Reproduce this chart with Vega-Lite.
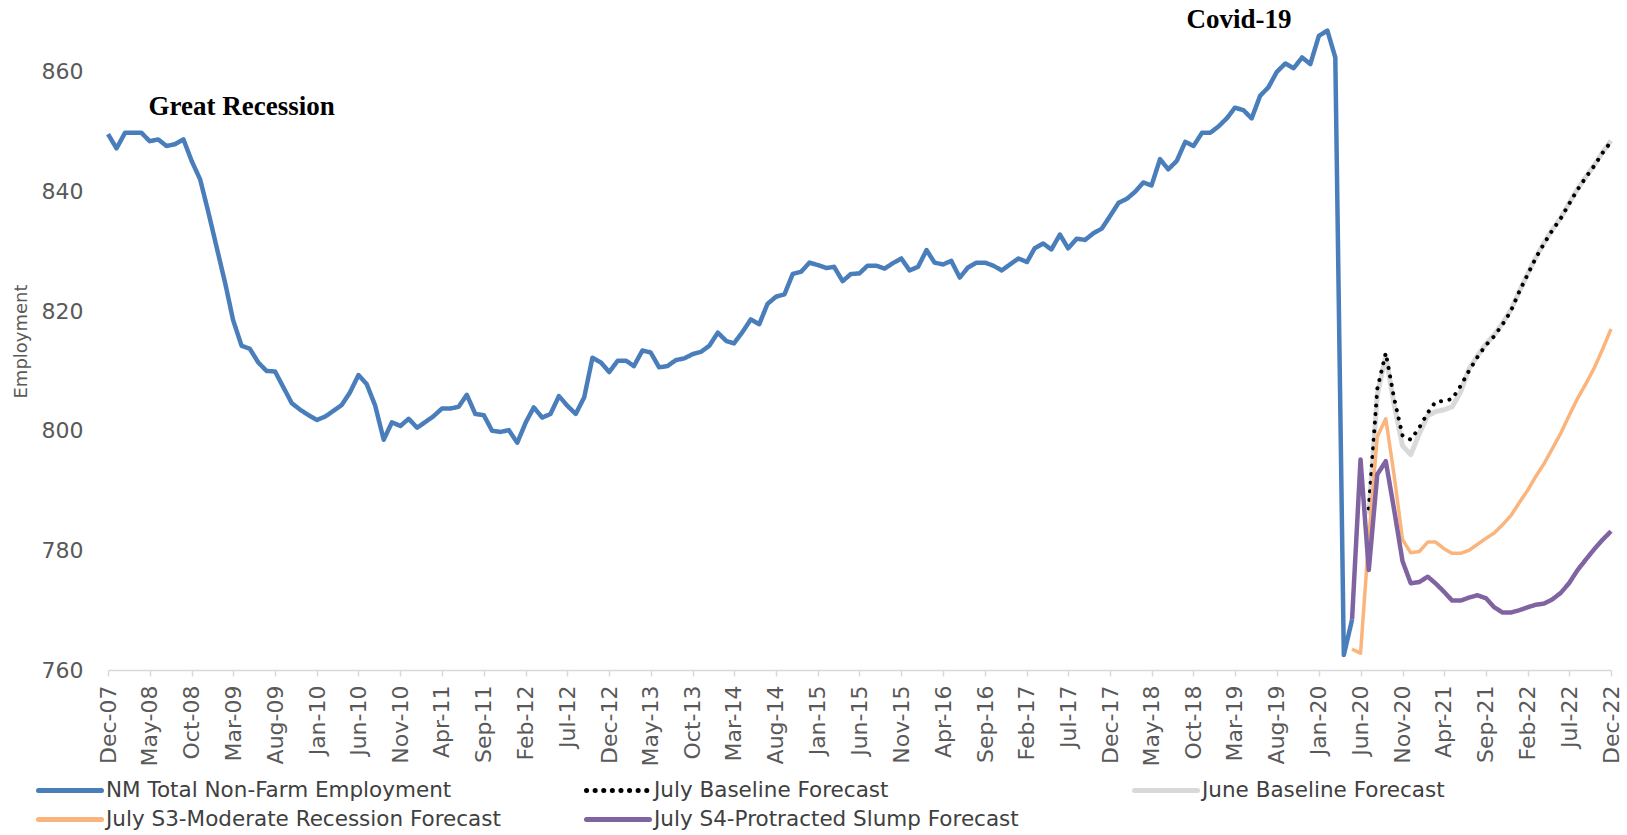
{
  "$schema": "https://vega.github.io/schema/vega-lite/v6.json",
  "width": 1503,
  "height": 658,
  "autosize": {"type": "none"},
  "padding": {"left": 108, "top": 12, "right": 16, "bottom": 165},
  "background": "white",
  "config": {
    "view": {"stroke": null},
    "axis": {"grid": false, "labelFont": "DejaVu Sans", "labelColor": "#595959", "titleFont": "DejaVu Sans", "titleColor": "#595959"}
  },
  "datasets": {
    "lines": [
      {"s":"NM Total Non-Farm Employment","d":"2007-12-01","v":849.6},
      {"s":"NM Total Non-Farm Employment","d":"2008-01-01","v":847.2},
      {"s":"NM Total Non-Farm Employment","d":"2008-02-01","v":849.8},
      {"s":"NM Total Non-Farm Employment","d":"2008-03-01","v":849.8},
      {"s":"NM Total Non-Farm Employment","d":"2008-04-01","v":849.8},
      {"s":"NM Total Non-Farm Employment","d":"2008-05-01","v":848.4},
      {"s":"NM Total Non-Farm Employment","d":"2008-06-01","v":848.7},
      {"s":"NM Total Non-Farm Employment","d":"2008-07-01","v":847.6},
      {"s":"NM Total Non-Farm Employment","d":"2008-08-01","v":847.9},
      {"s":"NM Total Non-Farm Employment","d":"2008-09-01","v":848.7},
      {"s":"NM Total Non-Farm Employment","d":"2008-10-01","v":845.1},
      {"s":"NM Total Non-Farm Employment","d":"2008-11-01","v":842.0},
      {"s":"NM Total Non-Farm Employment","d":"2008-12-01","v":836.5},
      {"s":"NM Total Non-Farm Employment","d":"2009-01-01","v":830.5},
      {"s":"NM Total Non-Farm Employment","d":"2009-02-01","v":824.5},
      {"s":"NM Total Non-Farm Employment","d":"2009-03-01","v":818.5},
      {"s":"NM Total Non-Farm Employment","d":"2009-04-01","v":814.2},
      {"s":"NM Total Non-Farm Employment","d":"2009-05-01","v":813.7},
      {"s":"NM Total Non-Farm Employment","d":"2009-06-01","v":811.4},
      {"s":"NM Total Non-Farm Employment","d":"2009-07-01","v":810.0},
      {"s":"NM Total Non-Farm Employment","d":"2009-08-01","v":809.9},
      {"s":"NM Total Non-Farm Employment","d":"2009-09-01","v":807.2},
      {"s":"NM Total Non-Farm Employment","d":"2009-10-01","v":804.6},
      {"s":"NM Total Non-Farm Employment","d":"2009-11-01","v":803.5},
      {"s":"NM Total Non-Farm Employment","d":"2009-12-01","v":802.6},
      {"s":"NM Total Non-Farm Employment","d":"2010-01-01","v":801.8},
      {"s":"NM Total Non-Farm Employment","d":"2010-02-01","v":802.4},
      {"s":"NM Total Non-Farm Employment","d":"2010-03-01","v":803.3},
      {"s":"NM Total Non-Farm Employment","d":"2010-04-01","v":804.3},
      {"s":"NM Total Non-Farm Employment","d":"2010-05-01","v":806.4},
      {"s":"NM Total Non-Farm Employment","d":"2010-06-01","v":809.3},
      {"s":"NM Total Non-Farm Employment","d":"2010-07-01","v":807.8},
      {"s":"NM Total Non-Farm Employment","d":"2010-08-01","v":804.2},
      {"s":"NM Total Non-Farm Employment","d":"2010-09-01","v":798.5},
      {"s":"NM Total Non-Farm Employment","d":"2010-10-01","v":801.4},
      {"s":"NM Total Non-Farm Employment","d":"2010-11-01","v":800.8},
      {"s":"NM Total Non-Farm Employment","d":"2010-12-01","v":802.0},
      {"s":"NM Total Non-Farm Employment","d":"2011-01-01","v":800.5},
      {"s":"NM Total Non-Farm Employment","d":"2011-02-01","v":801.5},
      {"s":"NM Total Non-Farm Employment","d":"2011-03-01","v":802.4},
      {"s":"NM Total Non-Farm Employment","d":"2011-04-01","v":803.7},
      {"s":"NM Total Non-Farm Employment","d":"2011-05-01","v":803.7},
      {"s":"NM Total Non-Farm Employment","d":"2011-06-01","v":804.0},
      {"s":"NM Total Non-Farm Employment","d":"2011-07-01","v":806.0},
      {"s":"NM Total Non-Farm Employment","d":"2011-08-01","v":802.8},
      {"s":"NM Total Non-Farm Employment","d":"2011-09-01","v":802.6},
      {"s":"NM Total Non-Farm Employment","d":"2011-10-01","v":800.0},
      {"s":"NM Total Non-Farm Employment","d":"2011-11-01","v":799.8},
      {"s":"NM Total Non-Farm Employment","d":"2011-12-01","v":800.1},
      {"s":"NM Total Non-Farm Employment","d":"2012-01-01","v":798.0},
      {"s":"NM Total Non-Farm Employment","d":"2012-02-01","v":801.4},
      {"s":"NM Total Non-Farm Employment","d":"2012-03-01","v":803.9},
      {"s":"NM Total Non-Farm Employment","d":"2012-04-01","v":802.2},
      {"s":"NM Total Non-Farm Employment","d":"2012-05-01","v":802.8},
      {"s":"NM Total Non-Farm Employment","d":"2012-06-01","v":805.8},
      {"s":"NM Total Non-Farm Employment","d":"2012-07-01","v":804.2},
      {"s":"NM Total Non-Farm Employment","d":"2012-08-01","v":802.8},
      {"s":"NM Total Non-Farm Employment","d":"2012-09-01","v":805.6},
      {"s":"NM Total Non-Farm Employment","d":"2012-10-01","v":812.2},
      {"s":"NM Total Non-Farm Employment","d":"2012-11-01","v":811.4},
      {"s":"NM Total Non-Farm Employment","d":"2012-12-01","v":809.8},
      {"s":"NM Total Non-Farm Employment","d":"2013-01-01","v":811.7},
      {"s":"NM Total Non-Farm Employment","d":"2013-02-01","v":811.7},
      {"s":"NM Total Non-Farm Employment","d":"2013-03-01","v":810.8},
      {"s":"NM Total Non-Farm Employment","d":"2013-04-01","v":813.4},
      {"s":"NM Total Non-Farm Employment","d":"2013-05-01","v":813.1},
      {"s":"NM Total Non-Farm Employment","d":"2013-06-01","v":810.6},
      {"s":"NM Total Non-Farm Employment","d":"2013-07-01","v":810.8},
      {"s":"NM Total Non-Farm Employment","d":"2013-08-01","v":811.8},
      {"s":"NM Total Non-Farm Employment","d":"2013-09-01","v":812.1},
      {"s":"NM Total Non-Farm Employment","d":"2013-10-01","v":812.8},
      {"s":"NM Total Non-Farm Employment","d":"2013-11-01","v":813.2},
      {"s":"NM Total Non-Farm Employment","d":"2013-12-01","v":814.2},
      {"s":"NM Total Non-Farm Employment","d":"2014-01-01","v":816.4},
      {"s":"NM Total Non-Farm Employment","d":"2014-02-01","v":815.0},
      {"s":"NM Total Non-Farm Employment","d":"2014-03-01","v":814.6},
      {"s":"NM Total Non-Farm Employment","d":"2014-04-01","v":816.5},
      {"s":"NM Total Non-Farm Employment","d":"2014-05-01","v":818.6},
      {"s":"NM Total Non-Farm Employment","d":"2014-06-01","v":817.8},
      {"s":"NM Total Non-Farm Employment","d":"2014-07-01","v":821.2},
      {"s":"NM Total Non-Farm Employment","d":"2014-08-01","v":822.4},
      {"s":"NM Total Non-Farm Employment","d":"2014-09-01","v":822.8},
      {"s":"NM Total Non-Farm Employment","d":"2014-10-01","v":826.2},
      {"s":"NM Total Non-Farm Employment","d":"2014-11-01","v":826.6},
      {"s":"NM Total Non-Farm Employment","d":"2014-12-01","v":828.1},
      {"s":"NM Total Non-Farm Employment","d":"2015-01-01","v":827.7},
      {"s":"NM Total Non-Farm Employment","d":"2015-02-01","v":827.2},
      {"s":"NM Total Non-Farm Employment","d":"2015-03-01","v":827.4},
      {"s":"NM Total Non-Farm Employment","d":"2015-04-01","v":825.0},
      {"s":"NM Total Non-Farm Employment","d":"2015-05-01","v":826.2},
      {"s":"NM Total Non-Farm Employment","d":"2015-06-01","v":826.3},
      {"s":"NM Total Non-Farm Employment","d":"2015-07-01","v":827.6},
      {"s":"NM Total Non-Farm Employment","d":"2015-08-01","v":827.6},
      {"s":"NM Total Non-Farm Employment","d":"2015-09-01","v":827.1},
      {"s":"NM Total Non-Farm Employment","d":"2015-10-01","v":828.0},
      {"s":"NM Total Non-Farm Employment","d":"2015-11-01","v":828.8},
      {"s":"NM Total Non-Farm Employment","d":"2015-12-01","v":826.8},
      {"s":"NM Total Non-Farm Employment","d":"2016-01-01","v":827.4},
      {"s":"NM Total Non-Farm Employment","d":"2016-02-01","v":830.2},
      {"s":"NM Total Non-Farm Employment","d":"2016-03-01","v":828.1},
      {"s":"NM Total Non-Farm Employment","d":"2016-04-01","v":827.8},
      {"s":"NM Total Non-Farm Employment","d":"2016-05-01","v":828.4},
      {"s":"NM Total Non-Farm Employment","d":"2016-06-01","v":825.6},
      {"s":"NM Total Non-Farm Employment","d":"2016-07-01","v":827.3},
      {"s":"NM Total Non-Farm Employment","d":"2016-08-01","v":828.1},
      {"s":"NM Total Non-Farm Employment","d":"2016-09-01","v":828.1},
      {"s":"NM Total Non-Farm Employment","d":"2016-10-01","v":827.6},
      {"s":"NM Total Non-Farm Employment","d":"2016-11-01","v":826.8},
      {"s":"NM Total Non-Farm Employment","d":"2016-12-01","v":827.8},
      {"s":"NM Total Non-Farm Employment","d":"2017-01-01","v":828.8},
      {"s":"NM Total Non-Farm Employment","d":"2017-02-01","v":828.2},
      {"s":"NM Total Non-Farm Employment","d":"2017-03-01","v":830.5},
      {"s":"NM Total Non-Farm Employment","d":"2017-04-01","v":831.3},
      {"s":"NM Total Non-Farm Employment","d":"2017-05-01","v":830.3},
      {"s":"NM Total Non-Farm Employment","d":"2017-06-01","v":832.8},
      {"s":"NM Total Non-Farm Employment","d":"2017-07-01","v":830.5},
      {"s":"NM Total Non-Farm Employment","d":"2017-08-01","v":832.1},
      {"s":"NM Total Non-Farm Employment","d":"2017-09-01","v":831.9},
      {"s":"NM Total Non-Farm Employment","d":"2017-10-01","v":833.0},
      {"s":"NM Total Non-Farm Employment","d":"2017-11-01","v":833.8},
      {"s":"NM Total Non-Farm Employment","d":"2017-12-01","v":835.9},
      {"s":"NM Total Non-Farm Employment","d":"2018-01-01","v":838.1},
      {"s":"NM Total Non-Farm Employment","d":"2018-02-01","v":838.8},
      {"s":"NM Total Non-Farm Employment","d":"2018-03-01","v":839.9},
      {"s":"NM Total Non-Farm Employment","d":"2018-04-01","v":841.5},
      {"s":"NM Total Non-Farm Employment","d":"2018-05-01","v":841.0},
      {"s":"NM Total Non-Farm Employment","d":"2018-06-01","v":845.4},
      {"s":"NM Total Non-Farm Employment","d":"2018-07-01","v":843.7},
      {"s":"NM Total Non-Farm Employment","d":"2018-08-01","v":845.1},
      {"s":"NM Total Non-Farm Employment","d":"2018-09-01","v":848.3},
      {"s":"NM Total Non-Farm Employment","d":"2018-10-01","v":847.6},
      {"s":"NM Total Non-Farm Employment","d":"2018-11-01","v":849.8},
      {"s":"NM Total Non-Farm Employment","d":"2018-12-01","v":849.8},
      {"s":"NM Total Non-Farm Employment","d":"2019-01-01","v":850.9},
      {"s":"NM Total Non-Farm Employment","d":"2019-02-01","v":852.3},
      {"s":"NM Total Non-Farm Employment","d":"2019-03-01","v":854.0},
      {"s":"NM Total Non-Farm Employment","d":"2019-04-01","v":853.6},
      {"s":"NM Total Non-Farm Employment","d":"2019-05-01","v":852.2},
      {"s":"NM Total Non-Farm Employment","d":"2019-06-01","v":856.0},
      {"s":"NM Total Non-Farm Employment","d":"2019-07-01","v":857.4},
      {"s":"NM Total Non-Farm Employment","d":"2019-08-01","v":860.0},
      {"s":"NM Total Non-Farm Employment","d":"2019-09-01","v":861.4},
      {"s":"NM Total Non-Farm Employment","d":"2019-10-01","v":860.6},
      {"s":"NM Total Non-Farm Employment","d":"2019-11-01","v":862.4},
      {"s":"NM Total Non-Farm Employment","d":"2019-12-01","v":861.3},
      {"s":"NM Total Non-Farm Employment","d":"2020-01-01","v":866.0},
      {"s":"NM Total Non-Farm Employment","d":"2020-02-01","v":866.9},
      {"s":"NM Total Non-Farm Employment","d":"2020-03-01","v":862.4},
      {"s":"NM Total Non-Farm Employment","d":"2020-04-01","v":762.5},
      {"s":"NM Total Non-Farm Employment","d":"2020-05-01","v":768.4},

      {"s":"June Baseline Forecast","d":"2020-07-01","v":786.0},
      {"s":"June Baseline Forecast","d":"2020-08-01","v":806.0},
      {"s":"June Baseline Forecast","d":"2020-09-01","v":812.5},
      {"s":"June Baseline Forecast","d":"2020-10-01","v":804.5},
      {"s":"June Baseline Forecast","d":"2020-11-01","v":797.5},
      {"s":"June Baseline Forecast","d":"2020-12-01","v":796.0},
      {"s":"June Baseline Forecast","d":"2021-01-01","v":799.5},
      {"s":"June Baseline Forecast","d":"2021-02-01","v":802.5},
      {"s":"June Baseline Forecast","d":"2021-03-01","v":803.2},
      {"s":"June Baseline Forecast","d":"2021-04-01","v":803.5},
      {"s":"June Baseline Forecast","d":"2021-05-01","v":804.0},
      {"s":"June Baseline Forecast","d":"2021-06-01","v":806.5},
      {"s":"June Baseline Forecast","d":"2021-07-01","v":810.3},
      {"s":"June Baseline Forecast","d":"2021-08-01","v":812.5},
      {"s":"June Baseline Forecast","d":"2021-09-01","v":814.5},
      {"s":"June Baseline Forecast","d":"2021-10-01","v":816.0},
      {"s":"June Baseline Forecast","d":"2021-11-01","v":818.0},
      {"s":"June Baseline Forecast","d":"2021-12-01","v":820.2},
      {"s":"June Baseline Forecast","d":"2022-01-01","v":823.3},
      {"s":"June Baseline Forecast","d":"2022-02-01","v":826.3},
      {"s":"June Baseline Forecast","d":"2022-03-01","v":828.9},
      {"s":"June Baseline Forecast","d":"2022-04-01","v":831.4},
      {"s":"June Baseline Forecast","d":"2022-05-01","v":833.6},
      {"s":"June Baseline Forecast","d":"2022-06-01","v":835.6},
      {"s":"June Baseline Forecast","d":"2022-07-01","v":838.0},
      {"s":"June Baseline Forecast","d":"2022-08-01","v":840.4},
      {"s":"June Baseline Forecast","d":"2022-09-01","v":842.5},
      {"s":"June Baseline Forecast","d":"2022-10-01","v":844.4},
      {"s":"June Baseline Forecast","d":"2022-11-01","v":846.6},
      {"s":"June Baseline Forecast","d":"2022-12-01","v":848.5},

      {"s":"July Baseline Forecast","d":"2020-07-01","v":787.0},
      {"s":"July Baseline Forecast","d":"2020-08-01","v":807.0},
      {"s":"July Baseline Forecast","d":"2020-09-01","v":813.0},
      {"s":"July Baseline Forecast","d":"2020-10-01","v":805.5},
      {"s":"July Baseline Forecast","d":"2020-11-01","v":799.2},
      {"s":"July Baseline Forecast","d":"2020-12-01","v":798.5},
      {"s":"July Baseline Forecast","d":"2021-01-01","v":800.5},
      {"s":"July Baseline Forecast","d":"2021-02-01","v":803.0},
      {"s":"July Baseline Forecast","d":"2021-03-01","v":804.8},
      {"s":"July Baseline Forecast","d":"2021-04-01","v":805.0},
      {"s":"July Baseline Forecast","d":"2021-05-01","v":805.3},
      {"s":"July Baseline Forecast","d":"2021-06-01","v":807.5},
      {"s":"July Baseline Forecast","d":"2021-07-01","v":810.0},
      {"s":"July Baseline Forecast","d":"2021-08-01","v":812.3},
      {"s":"July Baseline Forecast","d":"2021-09-01","v":814.3},
      {"s":"July Baseline Forecast","d":"2021-10-01","v":815.8},
      {"s":"July Baseline Forecast","d":"2021-11-01","v":817.8},
      {"s":"July Baseline Forecast","d":"2021-12-01","v":820.0},
      {"s":"July Baseline Forecast","d":"2022-01-01","v":823.3},
      {"s":"July Baseline Forecast","d":"2022-02-01","v":826.2},
      {"s":"July Baseline Forecast","d":"2022-03-01","v":828.8},
      {"s":"July Baseline Forecast","d":"2022-04-01","v":831.3},
      {"s":"July Baseline Forecast","d":"2022-05-01","v":833.5},
      {"s":"July Baseline Forecast","d":"2022-06-01","v":835.5},
      {"s":"July Baseline Forecast","d":"2022-07-01","v":837.9},
      {"s":"July Baseline Forecast","d":"2022-08-01","v":840.3},
      {"s":"July Baseline Forecast","d":"2022-09-01","v":842.4},
      {"s":"July Baseline Forecast","d":"2022-10-01","v":844.3},
      {"s":"July Baseline Forecast","d":"2022-11-01","v":846.5},
      {"s":"July Baseline Forecast","d":"2022-12-01","v":848.3},

      {"s":"July S3-Moderate Recession Forecast","d":"2020-05-01","v":763.5},
      {"s":"July S3-Moderate Recession Forecast","d":"2020-06-01","v":762.8},
      {"s":"July S3-Moderate Recession Forecast","d":"2020-07-01","v":782.0},
      {"s":"July S3-Moderate Recession Forecast","d":"2020-08-01","v":799.0},
      {"s":"July S3-Moderate Recession Forecast","d":"2020-09-01","v":802.0},
      {"s":"July S3-Moderate Recession Forecast","d":"2020-10-01","v":792.7},
      {"s":"July S3-Moderate Recession Forecast","d":"2020-11-01","v":781.8},
      {"s":"July S3-Moderate Recession Forecast","d":"2020-12-01","v":779.6},
      {"s":"July S3-Moderate Recession Forecast","d":"2021-01-01","v":779.8},
      {"s":"July S3-Moderate Recession Forecast","d":"2021-02-01","v":781.4},
      {"s":"July S3-Moderate Recession Forecast","d":"2021-03-01","v":781.4},
      {"s":"July S3-Moderate Recession Forecast","d":"2021-04-01","v":780.3},
      {"s":"July S3-Moderate Recession Forecast","d":"2021-05-01","v":779.5},
      {"s":"July S3-Moderate Recession Forecast","d":"2021-06-01","v":779.5},
      {"s":"July S3-Moderate Recession Forecast","d":"2021-07-01","v":780.0},
      {"s":"July S3-Moderate Recession Forecast","d":"2021-08-01","v":781.0},
      {"s":"July S3-Moderate Recession Forecast","d":"2021-09-01","v":782.0},
      {"s":"July S3-Moderate Recession Forecast","d":"2021-10-01","v":782.9},
      {"s":"July S3-Moderate Recession Forecast","d":"2021-11-01","v":784.3},
      {"s":"July S3-Moderate Recession Forecast","d":"2021-12-01","v":785.8},
      {"s":"July S3-Moderate Recession Forecast","d":"2022-01-01","v":788.0},
      {"s":"July S3-Moderate Recession Forecast","d":"2022-02-01","v":790.1},
      {"s":"July S3-Moderate Recession Forecast","d":"2022-03-01","v":792.3},
      {"s":"July S3-Moderate Recession Forecast","d":"2022-04-01","v":794.5},
      {"s":"July S3-Moderate Recession Forecast","d":"2022-05-01","v":797.0},
      {"s":"July S3-Moderate Recession Forecast","d":"2022-06-01","v":799.6},
      {"s":"July S3-Moderate Recession Forecast","d":"2022-07-01","v":802.5},
      {"s":"July S3-Moderate Recession Forecast","d":"2022-08-01","v":805.4},
      {"s":"July S3-Moderate Recession Forecast","d":"2022-09-01","v":807.9},
      {"s":"July S3-Moderate Recession Forecast","d":"2022-10-01","v":810.5},
      {"s":"July S3-Moderate Recession Forecast","d":"2022-11-01","v":813.7},
      {"s":"July S3-Moderate Recession Forecast","d":"2022-12-01","v":817.0},

      {"s":"July S4-Protracted Slump Forecast","d":"2020-05-01","v":768.4},
      {"s":"July S4-Protracted Slump Forecast","d":"2020-06-01","v":795.2},
      {"s":"July S4-Protracted Slump Forecast","d":"2020-07-01","v":776.7},
      {"s":"July S4-Protracted Slump Forecast","d":"2020-08-01","v":792.7},
      {"s":"July S4-Protracted Slump Forecast","d":"2020-09-01","v":794.9},
      {"s":"July S4-Protracted Slump Forecast","d":"2020-10-01","v":786.9},
      {"s":"July S4-Protracted Slump Forecast","d":"2020-11-01","v":778.2},
      {"s":"July S4-Protracted Slump Forecast","d":"2020-12-01","v":774.5},
      {"s":"July S4-Protracted Slump Forecast","d":"2021-01-01","v":774.7},
      {"s":"July S4-Protracted Slump Forecast","d":"2021-02-01","v":775.6},
      {"s":"July S4-Protracted Slump Forecast","d":"2021-03-01","v":774.5},
      {"s":"July S4-Protracted Slump Forecast","d":"2021-04-01","v":773.1},
      {"s":"July S4-Protracted Slump Forecast","d":"2021-05-01","v":771.6},
      {"s":"July S4-Protracted Slump Forecast","d":"2021-06-01","v":771.6},
      {"s":"July S4-Protracted Slump Forecast","d":"2021-07-01","v":772.1},
      {"s":"July S4-Protracted Slump Forecast","d":"2021-08-01","v":772.5},
      {"s":"July S4-Protracted Slump Forecast","d":"2021-09-01","v":772.0},
      {"s":"July S4-Protracted Slump Forecast","d":"2021-10-01","v":770.5},
      {"s":"July S4-Protracted Slump Forecast","d":"2021-11-01","v":769.6},
      {"s":"July S4-Protracted Slump Forecast","d":"2021-12-01","v":769.6},
      {"s":"July S4-Protracted Slump Forecast","d":"2022-01-01","v":770.0},
      {"s":"July S4-Protracted Slump Forecast","d":"2022-02-01","v":770.5},
      {"s":"July S4-Protracted Slump Forecast","d":"2022-03-01","v":770.9},
      {"s":"July S4-Protracted Slump Forecast","d":"2022-04-01","v":771.1},
      {"s":"July S4-Protracted Slump Forecast","d":"2022-05-01","v":771.8},
      {"s":"July S4-Protracted Slump Forecast","d":"2022-06-01","v":772.9},
      {"s":"July S4-Protracted Slump Forecast","d":"2022-07-01","v":774.5},
      {"s":"July S4-Protracted Slump Forecast","d":"2022-08-01","v":776.7},
      {"s":"July S4-Protracted Slump Forecast","d":"2022-09-01","v":778.5},
      {"s":"July S4-Protracted Slump Forecast","d":"2022-10-01","v":780.2},
      {"s":"July S4-Protracted Slump Forecast","d":"2022-11-01","v":781.8},
      {"s":"July S4-Protracted Slump Forecast","d":"2022-12-01","v":783.2}
    ],
    "notes": [
      {"label": "Great Recession", "d": "2009-04-01", "v": 854.2},
      {"label": "Covid-19", "d": "2019-03-16", "v": 868.6}
    ]
  },
  "layer": [
    {
      "data": {"name": "lines"},
      "encoding": {
        "x": {
          "field": "d", "type": "temporal",
          "scale": {"type": "utc", "domain": [{"year": 2007, "month": 12, "date": 1, "utc": true}, {"year": 2022, "month": 12, "date": 1, "utc": true}]},
          "axis": {
            "title": null, "format": "%b-%y", "labelAngle": -90, "labelFontSize": 22, "labelPadding": 9,
            "labelOverlap": false, "labelFlush": false,
            "tickSize": 6, "tickColor": "#d9d9d9", "tickWidth": 1.5, "domainColor": "#d9d9d9", "domainWidth": 1.5,
            "values": [
              {"year": 2007, "month": 12, "date": 1, "utc": true},
              {"year": 2008, "month": 5, "date": 1, "utc": true},
              {"year": 2008, "month": 10, "date": 1, "utc": true},
              {"year": 2009, "month": 3, "date": 1, "utc": true},
              {"year": 2009, "month": 8, "date": 1, "utc": true},
              {"year": 2010, "month": 1, "date": 1, "utc": true},
              {"year": 2010, "month": 6, "date": 1, "utc": true},
              {"year": 2010, "month": 11, "date": 1, "utc": true},
              {"year": 2011, "month": 4, "date": 1, "utc": true},
              {"year": 2011, "month": 9, "date": 1, "utc": true},
              {"year": 2012, "month": 2, "date": 1, "utc": true},
              {"year": 2012, "month": 7, "date": 1, "utc": true},
              {"year": 2012, "month": 12, "date": 1, "utc": true},
              {"year": 2013, "month": 5, "date": 1, "utc": true},
              {"year": 2013, "month": 10, "date": 1, "utc": true},
              {"year": 2014, "month": 3, "date": 1, "utc": true},
              {"year": 2014, "month": 8, "date": 1, "utc": true},
              {"year": 2015, "month": 1, "date": 1, "utc": true},
              {"year": 2015, "month": 6, "date": 1, "utc": true},
              {"year": 2015, "month": 11, "date": 1, "utc": true},
              {"year": 2016, "month": 4, "date": 1, "utc": true},
              {"year": 2016, "month": 9, "date": 1, "utc": true},
              {"year": 2017, "month": 2, "date": 1, "utc": true},
              {"year": 2017, "month": 7, "date": 1, "utc": true},
              {"year": 2017, "month": 12, "date": 1, "utc": true},
              {"year": 2018, "month": 5, "date": 1, "utc": true},
              {"year": 2018, "month": 10, "date": 1, "utc": true},
              {"year": 2019, "month": 3, "date": 1, "utc": true},
              {"year": 2019, "month": 8, "date": 1, "utc": true},
              {"year": 2020, "month": 1, "date": 1, "utc": true},
              {"year": 2020, "month": 6, "date": 1, "utc": true},
              {"year": 2020, "month": 11, "date": 1, "utc": true},
              {"year": 2021, "month": 4, "date": 1, "utc": true},
              {"year": 2021, "month": 9, "date": 1, "utc": true},
              {"year": 2022, "month": 2, "date": 1, "utc": true},
              {"year": 2022, "month": 7, "date": 1, "utc": true},
              {"year": 2022, "month": 12, "date": 1, "utc": true}
            ]
          }
        },
        "y": {
          "field": "v", "type": "quantitative",
          "scale": {"domain": [760, 870], "nice": false, "zero": false},
          "axis": {
            "title": "Employment", "titleFontSize": 18, "titleFontWeight": "normal", "titleAngle": -90,
            "titleX": -87, "titleY": 329, "titleAlign": "center", "titleBaseline": "middle",
            "values": [760, 780, 800, 820, 840, 860], "labelFontSize": 22, "labelPadding": 25,
            "ticks": false, "domain": false
          }
        },
        "color": {
          "field": "s", "type": "nominal",
          "scale": {
            "domain": ["NM Total Non-Farm Employment", "July Baseline Forecast", "June Baseline Forecast", "July S3-Moderate Recession Forecast", "July S4-Protracted Slump Forecast"],
            "range": ["#4a7ebb", "#000000", "#d9d9d9", "#fab47c", "#8064a2"]
          },
          "legend": {
            "title": null, "orient": "none", "legendX": -72, "legendY": 764, "direction": "horizontal", "columns": 3, "gridAlign": "all",
            "columnPadding": 83, "rowPadding": 0, "clipHeight": 29, "padding": 0,
            "symbolType": "stroke", "symbolSize": 3969, "symbolStrokeWidth": 5,
            "labelFont": "DejaVu Sans", "labelFontSize": 21.5, "labelColor": "#404040", "labelLimit": 0, "labelOffset": 2,
            "encode": {"symbols": {"update": {"strokeCap": {"value": "round"}}}}
          }
        },
        "strokeDash": {
          "field": "s", "type": "nominal",
          "scale": {
            "domain": ["NM Total Non-Farm Employment", "July Baseline Forecast", "June Baseline Forecast", "July S3-Moderate Recession Forecast", "July S4-Protracted Slump Forecast"],
            "range": [[1, 0], [0.1, 8.5], [1, 0], [1, 0], [1, 0]]
          }
        }
      },
      "layer": [
        {"transform": [{"filter": "datum.s === 'NM Total Non-Farm Employment'"}], "mark": {"type": "line", "strokeWidth": 4.5, "strokeJoin": "round"}},
        {"transform": [{"filter": "datum.s === 'June Baseline Forecast'"}], "mark": {"type": "line", "strokeWidth": 5, "strokeJoin": "round"}},
        {"transform": [{"filter": "datum.s === 'July Baseline Forecast'"}], "mark": {"type": "line", "strokeWidth": 4, "strokeCap": "round", "strokeJoin": "round"}},
        {"transform": [{"filter": "datum.s === 'July S3-Moderate Recession Forecast'"}], "mark": {"type": "line", "strokeWidth": 3.5, "strokeJoin": "round"}},
        {"transform": [{"filter": "datum.s === 'July S4-Protracted Slump Forecast'"}], "mark": {"type": "line", "strokeWidth": 4.5, "strokeJoin": "round"}}
      ]
    },
    {
      "data": {"name": "notes"},
      "mark": {"type": "text", "font": "Liberation Serif", "fontWeight": "bold", "fontSize": 27, "color": "#000000", "align": "center", "baseline": "middle"},
      "encoding": {
        "x": {"field": "d", "type": "temporal", "scale": {"type": "utc"}},
        "y": {"field": "v", "type": "quantitative"},
        "text": {"field": "label", "type": "nominal"}
      }
    }
  ]
}
